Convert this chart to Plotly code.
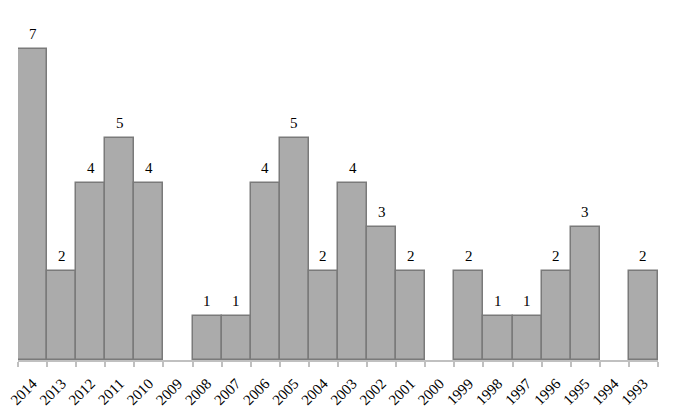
import plotly.graph_objects as go

years = ["2014","2013","2012","2011","2010","2009","2008","2007","2006","2005","2004",
         "2003","2002","2001","2000","1999","1998","1997","1996","1995","1994","1993"]
counts = [7,2,4,5,4,0,1,1,4,5,2,4,3,2,0,2,1,1,2,3,0,2]

labels = [str(c) if c > 0 else "" for c in counts]
line_colors = ["#7a7a7a" if c > 0 else "rgba(0,0,0,0)" for c in counts]

fig = go.Figure(go.Bar(
    x=years, y=counts,
    marker=dict(color="#ababab", line=dict(color=line_colors, width=1.5)),
    cliponaxis=False, hoverinfo="x+y",
))
for i, (c, lab) in enumerate(zip(counts, labels)):
    if lab:
        fig.add_annotation(x=i, y=c, xref="x", yref="y", text=lab, showarrow=False,
                           yanchor="bottom", yshift=5,
                           font=dict(family="Liberation Serif", size=15, color="black"))
fig.update_layout(
    width=676, height=415,
    margin=dict(l=18, r=18, t=5, b=55, autoexpand=False),
    paper_bgcolor="white", plot_bgcolor="white",
    bargap=0, showlegend=False,
    font=dict(family="Liberation Serif", size=15, color="black"),
)
fig.update_xaxes(
    type="category", categoryorder="array", categoryarray=years,
    range=[-0.5, len(years) - 0.5], tickangle=-45, showgrid=False, automargin=False,
    showline=True, linecolor="#c0c0c0", linewidth=2,
    ticks="outside", tickson="boundaries", ticklen=5, tickcolor="#c0c0c0", tickwidth=1.5,
    ticklabelstandoff=7,
    tickfont=dict(family="Liberation Serif", size=15, color="black"),
)
fig.update_yaxes(range=[0, 8], visible=False, showgrid=False, automargin=False)
fig.write_html("out.html", post_script="document.body.style.margin='0';",
               config={"displayModeBar": False})
